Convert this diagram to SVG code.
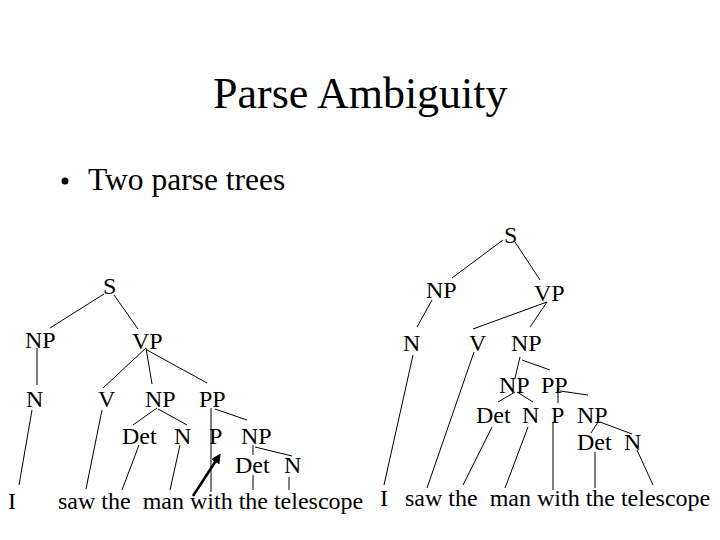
<svg xmlns="http://www.w3.org/2000/svg" width="720" height="540" viewBox="0 0 720 540">
<defs>
<style>
text{font-family:"Liberation Serif","Times New Roman",serif;fill:#000;}
.t{font-size:24px;}
.w{font-size:24px;white-space:pre;}
.c line{stroke:#000;stroke-width:1;}
.c line.arrow{stroke-width:2.5;}
</style>
<marker id="ah" viewBox="0 0 10 10" refX="7" refY="5" markerWidth="4" markerHeight="4" orient="auto" markerUnits="strokeWidth">
<path d="M0,0 L10,5 L0,10 z" fill="#000"/>
</marker>
</defs>
<rect width="720" height="540" fill="#fff"/>
<g id="title"><text x="213" y="108" font-size="44">Parse Ambiguity</text></g>
<g id="bullet"><circle cx="65" cy="181" r="3.5" fill="#000"/><text x="88" y="190" font-size="31.5">Two parse trees</text></g>

<g id="tree1-S"><text class="t" x="103" y="294">S</text></g>
<g id="tree1-NP"><text class="t" x="25" y="348">NP</text></g>
<g id="tree1-VP"><text class="t" x="132" y="349">VP</text></g>
<g id="tree1-N"><text class="t" x="26" y="407">N</text></g>
<g id="tree1-V"><text class="t" x="98" y="407">V</text></g>
<g id="tree1-NP2"><text class="t" x="145" y="407">NP</text></g>
<g id="tree1-PP"><text class="t" x="199" y="407">PP</text></g>
<g id="tree1-Det"><text class="t" x="122" y="444">Det</text></g>
<g id="tree1-N2"><text class="t" x="174" y="444">N</text></g>
<g id="tree1-P"><text class="t" x="209" y="444">P</text></g>
<g id="tree1-NP3"><text class="t" x="241" y="444">NP</text></g>
<g id="tree1-Det2"><text class="t" x="235" y="473">Det</text></g>
<g id="tree1-N3"><text class="t" x="284" y="473">N</text></g>
<g id="tree1-I"><text class="w" x="8" y="509">I</text></g>
<g id="tree1-words"><text class="w" x="58" y="509">saw the  man with the telescope</text></g>

<g id="tree2-S"><text class="t" x="504" y="243">S</text></g>
<g id="tree2-NP"><text class="t" x="426" y="298">NP</text></g>
<g id="tree2-VP"><text class="t" x="534" y="301">VP</text></g>
<g id="tree2-N"><text class="t" x="403" y="351">N</text></g>
<g id="tree2-V"><text class="t" x="469" y="351">V</text></g>
<g id="tree2-NP2"><text class="t" x="511" y="351">NP</text></g>
<g id="tree2-NP3"><text class="t" x="499" y="393">NP</text></g>
<g id="tree2-PP"><text class="t" x="541" y="393">PP</text></g>
<g id="tree2-Det"><text class="t" x="476" y="423">Det</text></g>
<g id="tree2-N2"><text class="t" x="522" y="423">N</text></g>
<g id="tree2-P"><text class="t" x="551" y="423">P</text></g>
<g id="tree2-NP4"><text class="t" x="577" y="423">NP</text></g>
<g id="tree2-Det2"><text class="t" x="577" y="450">Det</text></g>
<g id="tree2-N3"><text class="t" x="624" y="450">N</text></g>
<g id="tree2-I"><text class="w" x="380" y="506">I</text></g>
<g id="tree2-words"><text class="w" x="405" y="506">saw the  man with the telescope</text></g>

<g id="connectors" class="c">
<line x1="104" y1="294" x2="50" y2="328"/>
<line x1="114" y1="295" x2="138" y2="329"/>
<line x1="37" y1="348" x2="37" y2="385"/>
<line x1="146" y1="348" x2="103" y2="388"/>
<line x1="146" y1="348" x2="152" y2="384"/>
<line x1="147" y1="350" x2="207" y2="383"/>
<line x1="157" y1="408" x2="133" y2="425"/>
<line x1="158" y1="409" x2="187" y2="425"/>
<line x1="211" y1="408" x2="211" y2="492"/>
<line x1="215" y1="409" x2="247" y2="420"/>
<line x1="253" y1="445" x2="253" y2="455"/>
<line x1="255" y1="447" x2="292" y2="456"/>
<line x1="32" y1="410" x2="19" y2="485"/>
<line x1="102" y1="410" x2="86" y2="489"/>
<line x1="139" y1="445" x2="122" y2="490"/>
<line x1="180" y1="445" x2="170" y2="490"/>
<line x1="253" y1="475" x2="253" y2="490"/>
<line x1="289" y1="477" x2="289" y2="490"/>
<line class="arrow" x1="193" y1="496" x2="219" y2="456" marker-end="url(#ah)"/>

<line x1="503" y1="240" x2="452" y2="278"/>
<line x1="515" y1="242" x2="540" y2="280"/>
<line x1="432" y1="300" x2="417" y2="327"/>
<line x1="547" y1="302" x2="473" y2="329"/>
<line x1="547" y1="302" x2="530" y2="327"/>
<line x1="520" y1="357" x2="515" y2="378"/>
<line x1="522" y1="360" x2="550" y2="370"/>
<line x1="515" y1="392" x2="498" y2="402"/>
<line x1="517" y1="392" x2="533" y2="402"/>
<line x1="558" y1="387" x2="558" y2="403"/>
<line x1="560" y1="391" x2="588" y2="395"/>
<line x1="598" y1="422" x2="591" y2="433"/>
<line x1="600" y1="422" x2="632" y2="434"/>
<line x1="413" y1="355" x2="384" y2="485"/>
<line x1="474" y1="352" x2="427" y2="488"/>
<line x1="492" y1="427" x2="463" y2="485"/>
<line x1="528" y1="427" x2="505" y2="488"/>
<line x1="553" y1="422" x2="553" y2="490"/>
<line x1="595" y1="452" x2="595" y2="488"/>
<line x1="637" y1="450" x2="653" y2="485"/>
</g>
</svg>
